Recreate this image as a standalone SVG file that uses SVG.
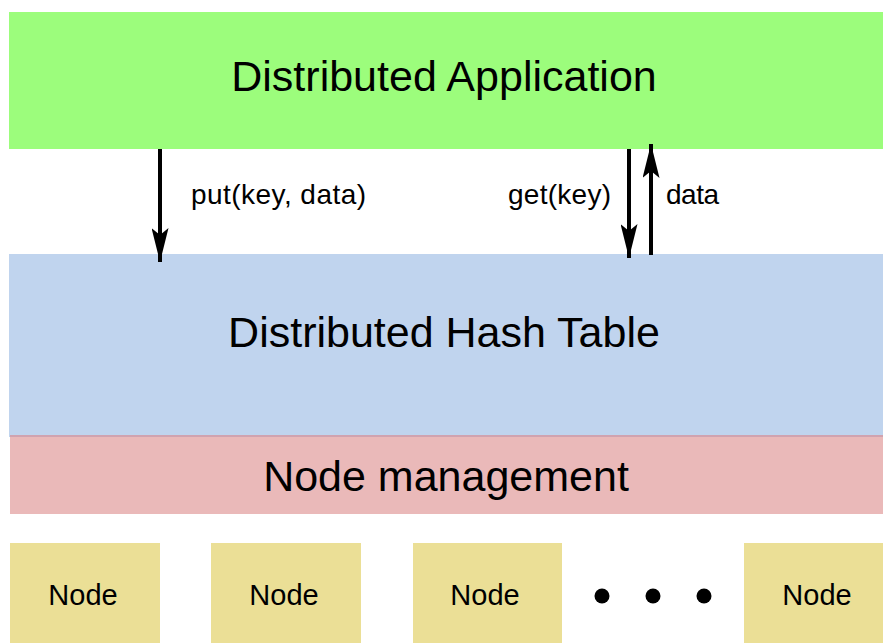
<svg xmlns="http://www.w3.org/2000/svg" width="883" height="643" viewBox="0 0 883 643">
<style>
text{font-family:"Liberation Sans",Arial,sans-serif;fill:#000}
.big{font-size:43px;text-anchor:middle}
.lbl{font-size:28px}
.node{fill:#ebdf96}
.nt{font-size:29px;text-anchor:middle}
.conn{stroke:#000;stroke-width:4;fill:none}
</style>
<defs>
<marker id="ah" markerWidth="8.5" markerHeight="4.25" refX="34" refY="8.5" orient="auto" markerUnits="strokeWidth" viewBox="0 0 34 17">
<path d="M0,0 L34,8.5 L0,17 L7,8.5 Z" fill="#000"/>
</marker>
</defs>
<rect width="883" height="643" fill="#fff"/>
<g id="app">
<rect x="9" y="12" width="874" height="137" fill="#9cfd7c"/>
<text class="big" x="444" y="91">Distributed Application</text>
</g>
<g id="dht">
<rect x="9" y="254" width="874" height="183" fill="#c0d4ee"/>
<text class="big" x="444" y="347">Distributed Hash Table</text>
</g>
<g id="nm">
<rect x="10" y="436" width="873" height="78" fill="#eab9b9"/>
<rect x="10" y="435" width="873" height="2" fill="#d0a3b0"/>
<text class="big" x="446" y="491">Node management</text>
</g>
<g id="node1"><rect class="node" x="10" y="543" width="150" height="100"/><text class="nt" x="83" y="605">Node</text></g>
<g id="node2"><rect class="node" x="211" y="543" width="150" height="100"/><text class="nt" x="284" y="605">Node</text></g>
<g id="node3"><rect class="node" x="413" y="543" width="149" height="100"/><text class="nt" x="485" y="605">Node</text></g>
<g id="dots"><circle cx="602" cy="596" r="7.5"/><circle cx="653" cy="596" r="7.5"/><circle cx="704" cy="596" r="7.5"/></g>
<g id="node4"><rect class="node" x="744" y="543" width="139" height="100"/><text class="nt" x="817" y="605">Node</text></g>
<g id="connectors">
<line class="conn" x1="160" y1="149" x2="160" y2="262" marker-end="url(#ah)"/>
<line class="conn" x1="629" y1="149" x2="629" y2="258" marker-end="url(#ah)"/>
<line class="conn" x1="651" y1="255" x2="651" y2="144" marker-end="url(#ah)"/>
<text class="lbl" x="191" y="204" textLength="175">put(key, data)</text>
<text class="lbl" x="508" y="204" textLength="103">get(key)</text>
<text class="lbl" x="666" y="204" textLength="53">data</text>
</g>
</svg>
